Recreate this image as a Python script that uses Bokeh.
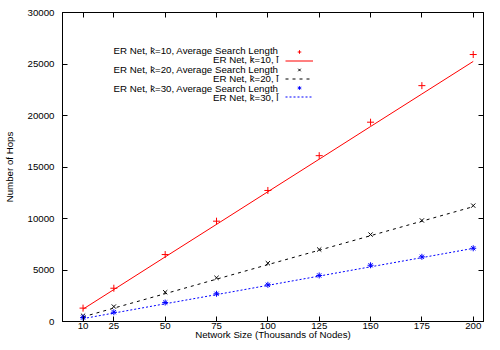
from bokeh.plotting import figure
from bokeh.models import (Range1d, FixedTicker, LinearAxis, Legend, LegendItem, Label)
from bokeh.embed import file_html
from bokeh.resources import INLINE

# ---- data ----
sizes = [10, 25, 50, 75, 100, 125, 150, 175, 200]
avg_k10 = [1300, 3230, 6500, 9740, 12720, 16100, 19350, 22900, 25920]
l_k10 = [1200, 3100, 6270, 9430, 12600, 15760, 18930, 22090, 25250]
avg_k20 = [560, 1450, 2840, 4240, 5660, 6990, 8440, 9810, 11250]
l_k20 = [450, 1300, 2700, 4110, 5520, 6920, 8330, 9740, 11150]
avg_k30 = [380, 900, 1840, 2690, 3560, 4470, 5460, 6280, 7110]
l_k30 = [280, 820, 1720, 2610, 3510, 4410, 5310, 6200, 7100]

x_ticks = [10, 25, 50, 75, 100, 125, 150, 175, 200]
y_ticks = [0, 5000, 10000, 15000, 20000, 25000, 30000]

x_title = "Network Size (Thousands of Nodes)"
y_title = "Number of Hops"
legend_texts = [
    "ER Net, k\u0304=10, Average Search Length",
    "ER Net, k\u0304=10, l\u0304",
    "ER Net, k\u0304=20, Average Search Length",
    "ER Net, k\u0304=20, l\u0304",
    "ER Net, k\u0304=30, Average Search Length",
    "ER Net, k\u0304=30, l\u0304",
]

FONT = "Liberation Sans"
FS = "9.7px"

p = figure(width=492, height=342, output_backend="svg", toolbar_location=None,
           x_range=Range1d(0, 205), y_range=Range1d(0, 30000),
           min_border_left=62, min_border_right=9, min_border_top=12, min_border_bottom=0)
p.grid.visible = False
p.outline_line_color = "black"
p.background_fill_color = "white"
p.border_fill_color = "white"

for ax in (p.xaxis[0], p.yaxis[0]):
    ax.major_tick_in = 5
    ax.major_tick_out = 0
    ax.minor_tick_line_color = None
    ax.axis_line_color = "black"
    ax.major_tick_line_color = "black"
    ax.major_label_text_font = FONT
    ax.major_label_text_font_size = FS
    ax.major_label_text_color = "black"
    ax.axis_label_text_font = FONT
    ax.axis_label_text_font_size = FS
    ax.axis_label_text_font_style = "normal"
    ax.axis_label_text_color = "black"

p.xaxis[0].ticker = FixedTicker(ticks=x_ticks)
p.yaxis[0].ticker = FixedTicker(ticks=y_ticks)
p.xaxis[0].axis_label = x_title
p.yaxis[0].axis_label = y_title
p.xaxis[0].major_label_standoff = 1
p.xaxis[0].axis_label_standoff = -3
p.yaxis[0].major_label_standoff = 8
p.yaxis[0].axis_label_standoff = 10

# mirrored ticks (no labels)
top = LinearAxis(ticker=FixedTicker(ticks=x_ticks),
                 major_label_overrides={t: "" for t in x_ticks})
right = LinearAxis(ticker=FixedTicker(ticks=y_ticks),
                   major_label_overrides={t: "" for t in y_ticks})
for ax in (top, right):
    ax.major_tick_in = 5
    ax.major_tick_out = 0
    ax.minor_tick_line_color = None
    ax.major_label_text_color = None
    ax.major_label_standoff = 0
    ax.axis_line_color = "black"
p.add_layout(top, "above")
p.add_layout(right, "right")

r1 = p.scatter(sizes, avg_k10, marker="cross", size=7, line_color="#ff0000", line_width=1)
r2 = p.line(sizes, l_k10, line_color="#ff0000", line_width=1)
r3 = p.scatter(sizes, avg_k20, marker="x", size=6, line_color="#000000", line_width=1)
r4 = p.line(sizes, l_k20, line_color="#000000", line_width=1, line_dash="3 4")
r5 = p.scatter(sizes, avg_k30, marker="asterisk", size=6, line_color="#0000ff", line_width=1)
r6 = p.line(sizes, l_k30, line_color="#0000ff", line_width=1, line_dash="2 2")

rends = [r1, r2, r3, r4, r5, r6]
items = [LegendItem(label=" ", renderers=[r]) for r in rends]
leg = Legend(items=items, location=(223, 220), glyph_width=28, glyph_height=9,
             label_height=9, label_width=0, label_standoff=0, spacing=0,
             padding=0, margin=0, label_text_font_size="7px", label_text_color=None,
             border_line_color=None, background_fill_alpha=0)
p.add_layout(leg, "center")

row_y = [271, 261.6, 252.2, 242.8, 233.4, 224]
for t, yy in zip(legend_texts, row_y):
    p.add_layout(Label(x=216, y=yy, x_units="screen", y_units="screen", text=t,
                       text_align="right", text_baseline="middle",
                       text_font=FONT, text_font_size=FS, text_color="black"))

open("out.html", "w").write(file_html(p, INLINE))
